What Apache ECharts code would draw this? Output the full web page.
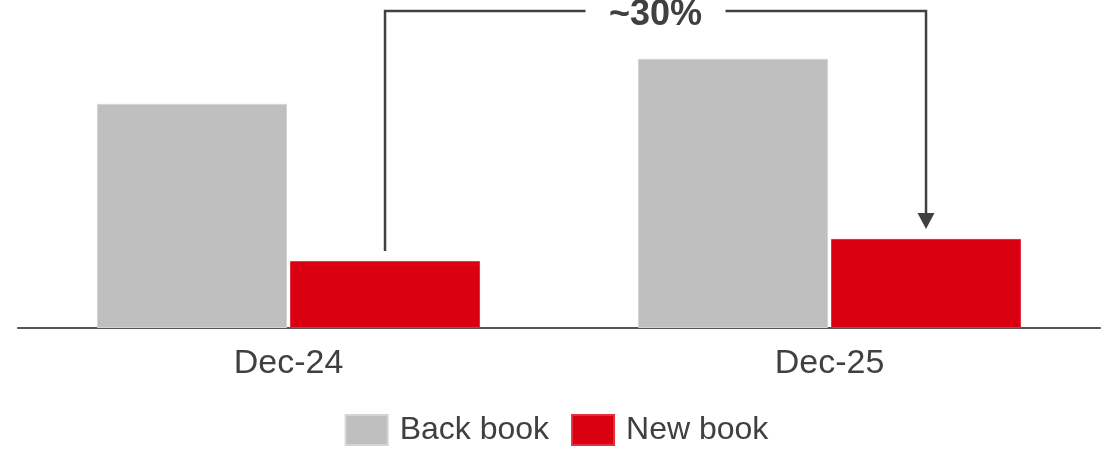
<!DOCTYPE html>
<html>
<head>
<meta charset="utf-8">
<script src="https://cdn.jsdelivr.net/npm/echarts@6/dist/echarts.min.js"></script>
<style>html,body{margin:0;padding:0;background:#fff}#c{width:1113px;height:449px}</style>
</head>
<body>
<div id="c"></div>
<script>
var categories = ['Dec-24', 'Dec-25'];
var backBook = [70.7, 84.9];
var newBook = [21.1, 28.1];
var seriesNames = ['Back book', 'New book'];
var changeLabel = '~30%';

var FONT = "'Liberation Sans', Arial, Helvetica, sans-serif";
var TXT = '#404040';
var chart = echarts.init(document.getElementById('c'), null, {renderer: 'canvas'});
chart.setOption({
  animation: false,
  grid: {left: 18, right: 13, top: 11, bottom: 121, containLabel: false},
  legend: {
    data: seriesNames, bottom: 3, left: 'center', icon: 'rect', padding: 0,
    itemWidth: 42, itemHeight: 30, itemGap: 22,
    textStyle: {fontFamily: FONT, fontSize: 32, color: TXT, padding: [0, 0, 0, 7]}
  },
  xAxis: {
    type: 'category', data: categories,
    axisLine: {lineStyle: {color: '#555', width: 2}},
    axisTick: {show: false},
    axisLabel: {fontFamily: FONT, fontSize: 34, color: TXT, margin: 19}
  },
  yAxis: {type: 'value', min: 0, max: 100, show: false, splitLine: {show: false}},
  series: [
    {name: seriesNames[0], type: 'bar', data: backBook, barWidth: 190, barGap: '1.6%',
     itemStyle: {color: '#BFBFBF', borderColor: '#d4d4d4', borderWidth: 1}},
    {name: seriesNames[1], type: 'bar', data: newBook, barWidth: 190,
     itemStyle: {color: '#DB0011', borderColor: '#e23040', borderWidth: 1}}
  ]
});

function drawBracket() {
  var data = chart.getModel().getSeriesByIndex(1).getData();
  var a = data.getItemLayout(0), b = data.getItemLayout(1);
  var x1 = a.x + a.width / 2, y1 = Math.min(a.y, a.y + a.height) - 10;
  var x2 = b.x + b.width / 2, y2 = Math.min(b.y, b.y + b.height) - 10;
  var yTop = 11;
  var mid = (x1 + x2) / 2;
  var halfGap = 70;
  var lc = '#404040';
  chart.setOption({
    graphic: [
      {type: 'polyline', shape: {points: [[x1, y1], [x1, yTop], [mid - halfGap, yTop]]},
       style: {stroke: lc, lineWidth: 2.5, fill: null}, silent: true},
      {type: 'polyline', shape: {points: [[mid + halfGap, yTop], [x2, yTop], [x2, y2 - 14]]},
       style: {stroke: lc, lineWidth: 2.5, fill: null}, silent: true},
      {type: 'polygon', shape: {points: [[x2 - 8.5, y2 - 16], [x2 + 8.5, y2 - 16], [x2, y2]]},
       style: {fill: lc}, silent: true},
      {type: 'text', x: mid, y: yTop + 4, silent: true,
       style: {text: changeLabel, fontFamily: FONT, fontWeight: 'bold', fontSize: 36,
               fill: lc, align: 'center', verticalAlign: 'middle'}}
    ]
  });
}
drawBracket();
</script>
</body>
</html>
